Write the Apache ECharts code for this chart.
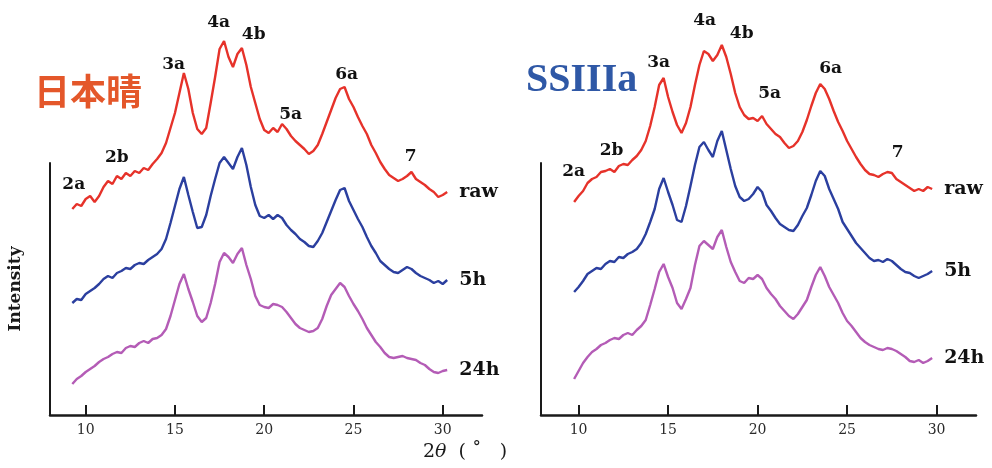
<!DOCTYPE html>
<html>
<head>
<meta charset="utf-8">
<script src="https://cdn.jsdelivr.net/npm/echarts@6/dist/echarts.min.js"></script>
<style>
  html, body { margin: 0; padding: 0; background: #fff; }
  #chart { width: 992px; height: 468px; }
</style>
</head>
<body>
<div id="chart"></div>
<script>
// 2θ sampling for each panel
const leftTheta = [9.25, 9.5, 9.75, 10, 10.25, 10.5, 10.75, 11, 11.25, 11.5,
  11.75, 12, 12.25, 12.5, 12.75, 13, 13.25, 13.5, 13.75, 14,
  14.25, 14.5, 14.75, 15, 15.25, 15.5, 15.75, 16, 16.25, 16.5,
  16.75, 17, 17.25, 17.5, 17.75, 18, 18.25, 18.5, 18.75, 19,
  19.25, 19.5, 19.75, 20, 20.25, 20.5, 20.75, 21, 21.25, 21.5,
  21.75, 22, 22.25, 22.5, 22.75, 23, 23.25, 23.5, 23.75, 24,
  24.25, 24.5, 24.75, 25, 25.25, 25.5, 25.75, 26, 26.25, 26.5,
  26.75, 27, 27.25, 27.5, 27.75, 28, 28.25, 28.5, 28.75, 29,
  29.25, 29.5, 29.75, 30, 30.25]
const rightTheta = [9.75, 10, 10.25, 10.5, 10.75, 11, 11.25, 11.5, 11.75, 12,
  12.25, 12.5, 12.75, 13, 13.25, 13.5, 13.75, 14, 14.25, 14.5,
  14.75, 15, 15.25, 15.5, 15.75, 16, 16.25, 16.5, 16.75, 17,
  17.25, 17.5, 17.75, 18, 18.25, 18.5, 18.75, 19, 19.25, 19.5,
  19.75, 20, 20.25, 20.5, 20.75, 21, 21.25, 21.5, 21.75, 22,
  22.25, 22.5, 22.75, 23, 23.25, 23.5, 23.75, 24, 24.25, 24.5,
  24.75, 25, 25.25, 25.5, 25.75, 26, 26.25, 26.5, 26.75, 27,
  27.25, 27.5, 27.75, 28, 28.25, 28.5, 28.75, 29, 29.25, 29.5,
  29.75]

// 日本晴 (offset intensities, arbitrary units)
const leftRaw = [206, 211, 209, 216, 219, 213, 219, 228, 234, 231,
  239, 236, 242, 239, 244, 242, 247, 245, 251, 256,
  262, 272, 287, 302, 322, 342, 326, 302, 286, 281,
  287, 312, 338, 366, 374, 358, 348, 361, 367, 350,
  328, 312, 296, 285, 282, 287, 283, 291, 286, 279,
  274, 270, 266, 261, 264, 270, 281, 293, 305, 317,
  326, 328, 316, 308, 298, 289, 281, 270, 262, 253,
  246, 240, 237, 234, 236, 239, 243, 236, 233, 230,
  226, 223, 218, 220, 223]
const left5h = [112, 116, 115, 121, 124, 127, 131, 136, 139, 137,
  142, 144, 147, 146, 150, 152, 151, 155, 158, 161,
  166, 176, 192, 209, 226, 238, 220, 203, 187, 188,
  200, 219, 236, 252, 258, 252, 246, 258, 267, 250,
  228, 210, 199, 197, 200, 196, 200, 197, 190, 185,
  181, 176, 173, 169, 168, 174, 182, 193, 204, 215,
  225, 227, 214, 205, 196, 188, 178, 169, 162, 154,
  150, 146, 143, 142, 145, 148, 146, 142, 139, 137,
  135, 132, 134, 131, 135]
const left24h = [31, 36, 39, 43, 46, 49, 53, 56, 58, 61,
  63, 62, 67, 69, 68, 72, 74, 72, 76, 77,
  80, 86, 99, 115, 131, 141, 126, 113, 99, 93,
  97, 112, 131, 153, 162, 158, 152, 161, 167, 150,
  136, 119, 110, 108, 107, 111, 110, 108, 103, 97,
  91, 87, 85, 83, 84, 87, 96, 109, 120, 126,
  132, 128, 119, 111, 104, 96, 87, 80, 73, 68,
  62, 58, 57, 58, 59, 57, 56, 55, 52, 50,
  46, 43, 42, 44, 45]

// SSIIIa
const rightRaw = [213, 219, 224, 232, 236, 238, 243, 244, 246, 243,
  249, 251, 250, 255, 259, 265, 274, 289, 308, 330,
  337, 318, 303, 290, 282, 292, 308, 330, 350, 364,
  361, 354, 360, 370, 358, 341, 322, 308, 300, 296,
  297, 294, 299, 291, 286, 281, 278, 272, 267, 269,
  274, 283, 295, 309, 322, 331, 326, 316, 304, 293,
  284, 274, 266, 258, 251, 245, 241, 240, 238, 241,
  243, 242, 236, 233, 230, 227, 224, 226, 224, 228,
  226]
const right5h = [123, 128, 134, 141, 144, 147, 146, 151, 154, 153,
  158, 157, 161, 163, 166, 172, 181, 193, 206, 226,
  237, 223, 210, 195, 193, 209, 229, 250, 268, 273,
  265, 258, 274, 284, 265, 246, 229, 218, 214, 216,
  221, 228, 223, 210, 204, 197, 191, 188, 185, 184,
  190, 199, 207, 220, 234, 244, 239, 226, 216, 206,
  193, 186, 179, 172, 167, 162, 157, 154, 155, 153,
  156, 154, 150, 146, 143, 142, 139, 137, 139, 141,
  144]
const right24h = [36, 44, 52, 58, 63, 66, 70, 72, 75, 77,
  76, 80, 82, 80, 85, 89, 95, 110, 126, 143,
  151, 138, 127, 112, 106, 116, 127, 150, 169, 174,
  170, 166, 178, 185, 168, 153, 143, 134, 132, 137,
  136, 140, 136, 127, 121, 116, 109, 104, 99, 96,
  101, 108, 115, 128, 140, 148, 139, 128, 120, 112,
  102, 94, 89, 83, 77, 73, 70, 68, 66, 65,
  67, 66, 64, 61, 58, 54, 53, 55, 52, 54,
  57]

// peak labels
const peakNames = ['2a', '2b', '3a', '4a', '4b', '5a', '6a', '7']
const leftPeakTheta = [9.33, 11.74, 14.93, 17.45, 19.41, 21.48, 24.62, 28.21]
const leftPeakY = [230, 257, 350, 392, 380, 300, 340, 258]
const rightPeakTheta = [9.72, 11.84, 14.47, 17.04, 19.11, 20.67, 24.08, 27.82]
const rightPeakY = [243, 264, 352, 394, 381, 321, 346, 262]

const tickValues = [10, 15, 20, 25, 30]
const colors = { raw: '#e6322a', '5h': '#2b3f9f', '24h': '#b45cb6' }
const serif = 'DejaVu Serif'

const pairs = (xs, ys) => xs.map((x, i) => [x, ys[i]])

const makeX = (idx, min) => ({
  type: 'value',
  gridIndex: idx,
  min: min,
  max: 32.2,
  splitLine: { show: false },
  axisLine: { lineStyle: { color: '#1a1a1a', width: 2.5 } },
  axisTick: { show: true, inside: true, length: 10, customValues: tickValues, lineStyle: { color: '#1a1a1a', width: 2 } },
  axisLabel: { customValues: tickValues, color: '#2a2a2a', fontFamily: serif, fontSize: 14, margin: 8 },
})

const makeY = (idx, name) => ({
  type: 'value',
  gridIndex: idx,
  min: 0,
  max: 252,
  name: name,
  nameLocation: 'middle',
  nameGap: 26,
  nameTextStyle: { color: '#1a1a1a', fontFamily: serif, fontWeight: 'bold', fontSize: 17 },
  splitLine: { show: false },
  axisTick: { show: false },
  axisLabel: { show: false },
  axisLine: { show: true, lineStyle: { color: '#1a1a1a', width: 2 } },
})

const curve = (name, idx, xs, ys) => ({
  name: name,
  type: 'line',
  xAxisIndex: idx,
  yAxisIndex: idx,
  data: pairs(xs, ys),
  showSymbol: false,
  clip: false,
  lineStyle: { color: colors[name], width: 2.4 },
  itemStyle: { color: colors[name] },
  endLabel: {
    show: true,
    formatter: name,
    distance: 12,
    color: '#111',
    fontFamily: serif,
    fontWeight: 'bold',
    fontSize: 19,
  },
  animation: false,
})

const peaks = (idx, xs, ys) => ({
  type: 'scatter',
  xAxisIndex: idx,
  yAxisIndex: idx,
  symbolSize: 0,
  clip: false,
  itemStyle: { color: 'rgba(0,0,0,0)', opacity: 1 },
  data: xs.map((x, i) => [x, ys[i], peakNames[i]]),
  label: {
    show: true,
    position: 'inside',
    formatter: (p) => p.value[2],
    color: '#111',
    textBorderWidth: 0,
    fontFamily: serif,
    fontWeight: 'bold',
    fontSize: 17,
  },
  animation: false,
})

const chart = echarts.init(document.getElementById('chart'))
chart.setOption({
  backgroundColor: '#fff',
  animation: false,
  grid: [
    { left: 50, top: 163, width: 432, height: 252 },
    { left: 541, top: 163, width: 435, height: 252 },
  ],
  xAxis: [makeX(0, 8), makeX(1, 7.9)],
  yAxis: [makeY(0, 'Intensity'), makeY(1, '')],
  series: [
    curve('raw', 0, leftTheta, leftRaw),
    curve('5h', 0, leftTheta, left5h),
    curve('24h', 0, leftTheta, left24h),
    curve('raw', 1, rightTheta, rightRaw),
    curve('5h', 1, rightTheta, right5h),
    curve('24h', 1, rightTheta, right24h),
    peaks(0, leftPeakTheta, leftPeakY),
    peaks(1, rightPeakTheta, rightPeakY),
  ],
  graphic: [
    {
      type: 'text', left: 34, top: 73,
      style: { text: '日本晴', fill: '#e4572a', font: 'bold 36px "Noto Sans CJK JP"' },
    },
    {
      type: 'text', left: 526, top: 61,
      style: { text: 'SSIIIa', fill: '#2f58a6', font: 'bold 40px "Liberation Serif"' },
    },
    {
      type: 'text', left: 423, top: 443,
      style: {
        text: '2{i|θ}  ( ˚   )',
        fill: '#1a1a1a',
        font: '19px "DejaVu Serif"',
        rich: { i: { fontStyle: 'italic', fontFamily: serif, fontSize: 19, fill: '#1a1a1a' } },
      },
    },
  ],
})
</script>
</body>
</html>
